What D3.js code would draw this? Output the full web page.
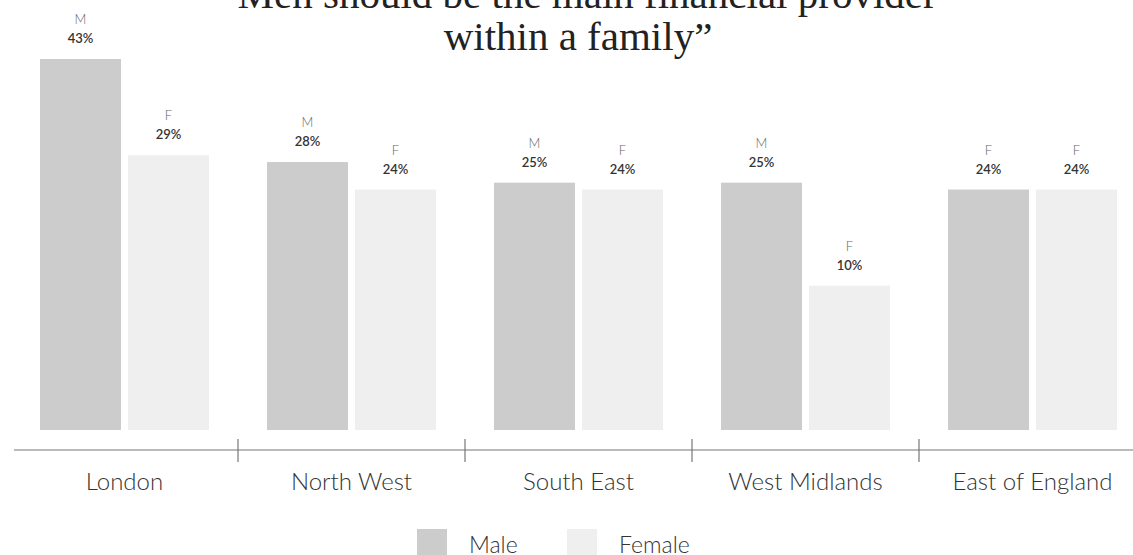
<!DOCTYPE html>
<html>
<head>
<meta charset="utf-8">
<script src="https://cdn.jsdelivr.net/npm/d3@7"></script>
<style>
  html, body { margin: 0; padding: 0; background: #fff; }
  svg { display: block; }
  .sans { font-family: "Lato", "Open Sans", "Noto Sans", sans-serif; }
</style>
</head>
<body>
<svg id="chart" width="1133" height="555"></svg>
<script>
// Survey answers by region: share agreeing with the statement
const titleLines = ["\u201CMen should be the main financial provider", "within a family\u201D"];
const regions = ["London", "North West", "South East", "West Midlands", "East of England"];
const series = ["Male", "Female"];
const maleValues = [43, 28, 25, 25, 24];
const femaleValues = [29, 24, 24, 10, 24];
// Letter printed above each bar, per series
const maleTags = ["M", "M", "M", "M", "F"];
const femaleTags = ["F", "F", "F", "F", "F"];
const colors = ["#cccccc", "#efefef"];

const svg = d3.select("#chart");
const W = 1133;

const rows = regions.map((r, i) => ({
  region: r,
  bars: [
    { key: series[0], value: maleValues[i], tag: maleTags[i] },
    { key: series[1], value: femaleValues[i], tag: femaleTags[i] }
  ]
}));

// Scales
const x0 = d3.scaleBand().domain(regions).range([11, 1146]).padding(0);
const groupW = 169;
const x1 = d3.scaleBand().domain(series).range([0, groupW]).paddingInner(0.0795);
const y = d3.scaleLinear().domain([-11, 43]).range([430, 59]);
const color = d3.scaleOrdinal().domain(series).range(colors);

// Title
svg.append("text")
  .attr("x", 578).attr("y", 8)
  .attr("text-anchor", "middle")
  .style("font-family", "'Liberation Serif', 'DejaVu Serif', serif")
  .style("font-size", "41px")
  .attr("fill", "#222")
  .selectAll("tspan").data(titleLines).join("tspan")
  .attr("x", 578)
  .attr("dy", (d, i) => i === 0 ? 0 : 42)
  .text(d => d);

// Bars and labels
const groups = svg.append("g").selectAll("g").data(rows).join("g")
  .attr("transform", d => `translate(${x0(d.region) + (x0.bandwidth() - groupW) / 2},0)`);

groups.selectAll("rect").data(d => d.bars).join("rect")
  .attr("x", d => x1(d.key))
  .attr("y", d => y(d.value))
  .attr("width", x1.bandwidth())
  .attr("height", d => y(-11) - y(d.value))
  .attr("fill", d => color(d.key));

groups.selectAll("text.tag").data(d => d.bars).join("text")
  .attr("class", "tag sans")
  .attr("x", d => x1(d.key) + x1.bandwidth() / 2)
  .attr("y", d => y(d.value) - 35)
  .attr("text-anchor", "middle")
  .style("font-size", "13px")
  .style("font-weight", 300)
  .attr("fill", "#666")
  .text(d => d.tag);

groups.selectAll("text.pct").data(d => d.bars).join("text")
  .attr("class", "pct sans")
  .attr("x", d => x1(d.key) + x1.bandwidth() / 2)
  .attr("y", d => y(d.value) - 16)
  .attr("text-anchor", "middle")
  .style("font-size", "13px")
  .style("font-weight", 600)
  .attr("fill", "#333")
  .text(d => d.value + "%");

// Category axis
const axisY = 450;
const axis = svg.append("g");
axis.append("line")
  .attr("x1", 14).attr("x2", W)
  .attr("y1", axisY).attr("y2", axisY)
  .attr("stroke", "#777").attr("stroke-width", 1.2);
axis.selectAll("line.tick").data(regions.slice(1)).join("line")
  .attr("class", "tick")
  .attr("x1", d => x0(d)).attr("x2", d => x0(d))
  .attr("y1", axisY - 11).attr("y2", axisY + 12)
  .attr("stroke", "#777").attr("stroke-width", 1.2);
axis.selectAll("text").data(regions).join("text")
  .attr("class", "sans")
  .attr("x", d => x0(d) + x0.bandwidth() / 2)
  .attr("y", 490)
  .attr("text-anchor", "middle")
  .style("font-size", "24px")
  .style("font-weight", 300)
  .attr("fill", "#333")
  .text(d => d);

// Legend
const legendX = [417, 567];
const legend = svg.append("g").selectAll("g").data(series).join("g")
  .attr("transform", (d, i) => `translate(${legendX[i]},529)`);
legend.append("rect")
  .attr("width", 30).attr("height", 30)
  .attr("fill", d => color(d));
legend.append("text")
  .attr("class", "sans")
  .attr("x", 52).attr("y", 24)
  .style("font-size", "23px")
  .style("font-weight", 300)
  .attr("fill", "#333")
  .text(d => d);
</script>
</body>
</html>
